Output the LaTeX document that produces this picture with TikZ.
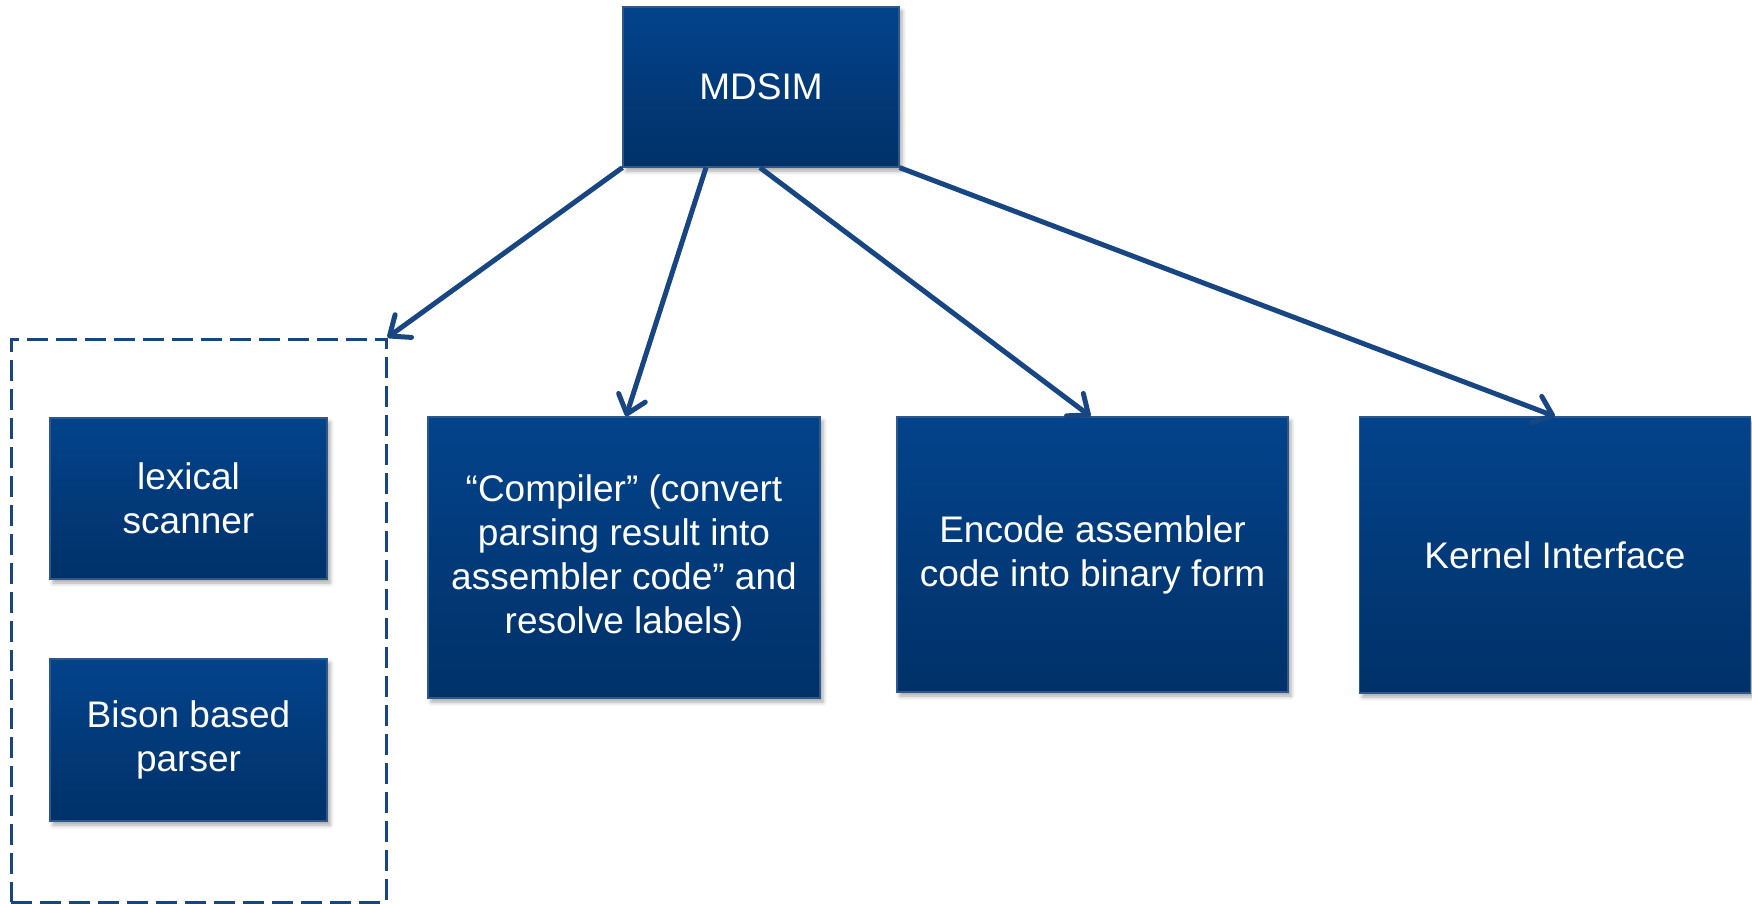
\documentclass[tikz,border=0pt]{standalone}
\usepackage{fontspec}
\setmainfont{Liberation Sans}
\usetikzlibrary{arrows.meta,shadows.blur}
\definecolor{boxtop}{RGB}{3,67,139}
\definecolor{boxbot}{RGB}{1,49,104}
\definecolor{boxedge}{RGB}{45,88,140}
\definecolor{linkblue}{RGB}{24,70,130}
\tikzset{
  blockbox/.style={rectangle, draw=boxedge, line width=1.2pt,
    top color=boxtop, bottom color=boxbot, text=white,
    align=center, inner sep=0pt,
    font=\fontsize{37}{44}\selectfont,
    blur shadow={shadow xshift=3pt, shadow yshift=-4pt,
      shadow blur radius=4pt, shadow opacity=35}},
  groupbox/.style={rectangle, draw=linkblue, line width=3pt,
    dash pattern=on 21pt off 8pt, inner sep=0pt},
  link/.style={draw=linkblue, line width=5pt,
    -{Straight Barb[length=17pt,width=28pt,round]}}
}
\begin{document}
\begin{tikzpicture}[x=1pt,y=-1pt]
  \useasboundingbox (0,0) rectangle (1752,904);

  % top-level block
  \node[blockbox, minimum width=276pt, minimum height=160pt] (mdsim) at (761,87) {MDSIM};

  % front end group: scanner and parser
  \node[groupbox, minimum width=375pt, minimum height=563pt] (grp) at (198.5,620.5) {};
  \node[blockbox, minimum width=277pt, minimum height=161pt] (lex) at (188.5,498.5) {lexical\\scanner};
  \node[blockbox, minimum width=277pt, minimum height=162pt] (bison) at (188.5,740) {Bison based\\parser};

  % remaining stages
  \node[blockbox, minimum width=392pt, minimum height=281pt] (comp) at (624,557.5)
    {“Compiler” (convert\\parsing result into\\assembler code” and\\resolve labels)};
  \node[blockbox, minimum width=391pt, minimum height=275pt] (enc) at (1092.5,554.5)
    {Encode assembler\\code into binary form};
  \node[blockbox, minimum width=391pt, minimum height=276pt] (kern) at (1555,555)
    {Kernel Interface};

  % connectors
  \draw[link] (mdsim.south west) -- (grp.north east);
  \draw[link] ([xshift=-55pt]mdsim.south) -- ([xshift=2pt]comp.north);
  \draw[link] ([xshift=-1pt]mdsim.south) -- ([xshift=-2pt]enc.north);
  \draw[link] (mdsim.south east) -- (kern.north);
\end{tikzpicture}
\end{document}
